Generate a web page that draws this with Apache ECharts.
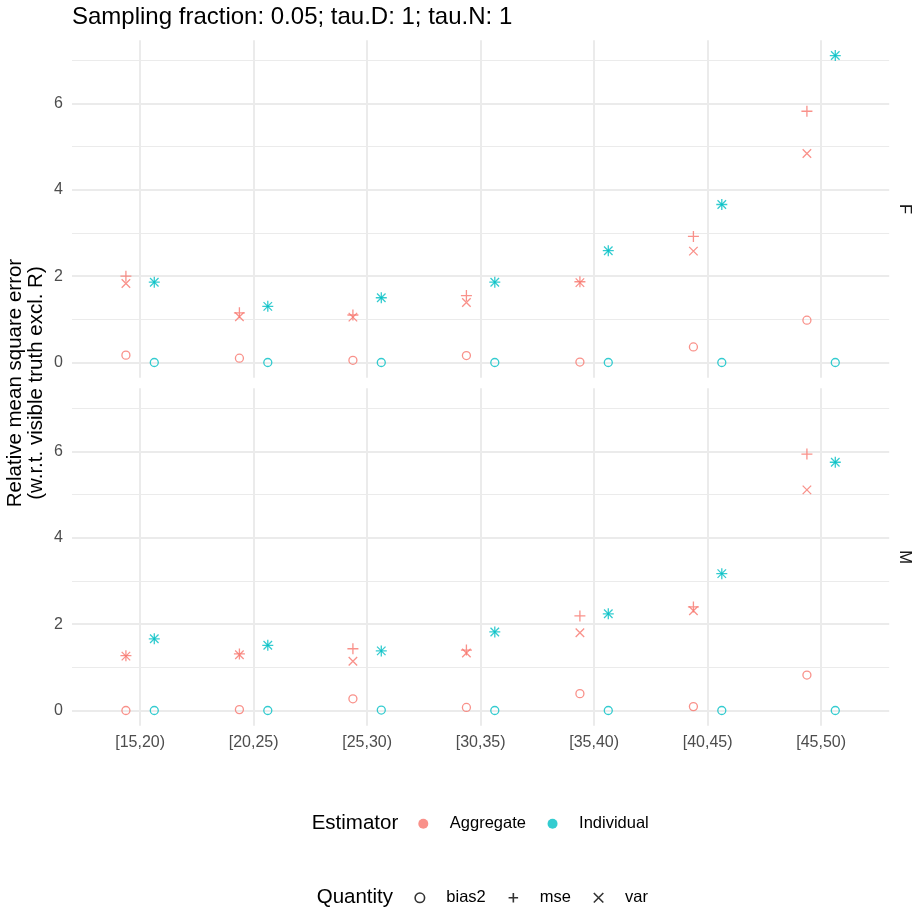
<!DOCTYPE html>
<html>
<head>
<meta charset="utf-8">
<title>Relative mean square error</title>
<script src="https://cdn.jsdelivr.net/npm/echarts@6.0.0/dist/echarts.min.js"></script>
<style>
html, body {margin:0; padding:0; background:#fff;}
#chart {width:919px; height:915px;}
</style>
</head>
<body>
<div id="chart"></div>
<script>
var ageGroups = ['[15,20)', '[20,25)', '[25,30)', '[30,35)', '[35,40)', '[40,45)', '[45,50)'];

// panel F
var fAggBias2 = [0.17, 0.10, 0.05, 0.16, 0.01, 0.36, 0.98];
var fAggMse   = [2.00, 1.15, 1.10, 1.55, 1.87, 2.92, 5.82];
var fAggVar   = [1.83, 1.06, 1.05, 1.39, 1.85, 2.58, 4.84];
var fIndBias2 = [0.00, 0.00, 0.00, 0.00, 0.00, 0.00, 0.00];
var fIndMse   = [1.86, 1.30, 1.50, 1.86, 2.59, 3.66, 7.11];
var fIndVar   = [1.86, 1.30, 1.50, 1.86, 2.59, 3.66, 7.11];

// panel M
var mAggBias2 = [0.00, 0.02, 0.27, 0.07, 0.39, 0.09, 0.82];
var mAggMse   = [1.27, 1.31, 1.43, 1.40, 2.19, 2.40, 5.94];
var mAggVar   = [1.26, 1.29, 1.14, 1.33, 1.80, 2.31, 5.11];
var mIndBias2 = [0.00, 0.00, 0.01, 0.00, 0.00, 0.00, 0.00];
var mIndMse   = [1.66, 1.51, 1.38, 1.82, 2.24, 3.17, 5.75];
var mIndVar   = [1.66, 1.51, 1.38, 1.82, 2.24, 3.17, 5.75];

var panelNames = ['F', 'M'];
var yTicks = ['0', '2', '4', '6'];

var myChart = echarts.init(document.getElementById('chart'));

var red = '#F8766D', teal = '#00BFC4';
var font = '"Liberation Sans", Arial, sans-serif';
var gridCol = '#EBEBEB';

// panel geometry
var yMin = -0.3555, yMax = 7.4655, yUnit = 43.17;
var xUnit = 113.5, firstX = 140.1, dodge = 0.125;
var panelTops = [40.2, 388.2];
var panelH = (yMax - yMin) * yUnit;

var symbols = {
    bias2: 'circle',
    mse: 'path://M0,5L10,5M5,0L5,10',
    var: 'path://M0,0L10,10M10,0L0,10'
};
var symbolSizes = {bias2: 8, mse: 11, var: 8.5};

function points(bias2, mse, vr, shift) {
    var d = [];
    for (var i = 0; i < ageGroups.length; i++) {
        d.push({value: [i + 1 + shift, bias2[i]], symbol: symbols.bias2, symbolSize: symbolSizes.bias2});
        d.push({value: [i + 1 + shift, mse[i]], symbol: symbols.mse, symbolSize: symbolSizes.mse});
        d.push({value: [i + 1 + shift, vr[i]], symbol: symbols.var, symbolSize: symbolSizes.var});
    }
    return d;
}

var grids = [], xAxes = [], yAxes = [], series = [];

panelNames.forEach(function (p, k) {
    var top = panelTops[k];
    var y0 = top + yMax * yUnit;
    // data grid, also carries the vertical grid lines
    grids.push({left: firstX, top: top, width: 6 * xUnit, height: panelH});
    // grid for the horizontal lines and y labels
    grids.push({left: firstX - 0.6 * xUnit, top: y0 - 8 * yUnit, width: 7.2 * xUnit, height: 8 * yUnit});

    xAxes.push({
        type: 'value', gridIndex: 2 * k, min: 1, max: 7, interval: 1,
        axisLine: {show: false}, axisTick: {show: false},
        axisLabel: {
            show: k === 1, margin: 9, color: '#4D4D4D', fontSize: 16, fontFamily: font,
            formatter: function (v) { return ageGroups[v - 1]; }
        },
        splitLine: {show: true, lineStyle: {color: gridCol, width: 2}}
    });
    yAxes.push({type: 'value', gridIndex: 2 * k, min: yMin, max: yMax, show: false});

    xAxes.push({type: 'value', gridIndex: 2 * k + 1, min: 0, max: 1, show: false});
    yAxes.push({
        type: 'value', gridIndex: 2 * k + 1, min: 0, max: 8, interval: 2,
        axisLine: {show: false}, axisTick: {show: false},
        axisLabel: {
            margin: 9, color: '#4D4D4D', fontSize: 16, fontFamily: font, showMaxLabel: false,
            formatter: function (v) { return yTicks[v / 2] || ''; }
        },
        splitLine: {show: true, showMaxLine: false, lineStyle: {color: gridCol, width: 2}},
        minorTick: {show: false, splitNumber: 2},
        minorSplitLine: {show: true, lineStyle: {color: gridCol, width: 1}}
    });
});

var panelData = [
    [[fAggBias2, fAggMse, fAggVar], [fIndBias2, fIndMse, fIndVar]],
    [[mAggBias2, mAggMse, mAggVar], [mIndBias2, mIndMse, mIndVar]]
];

panelData.forEach(function (pd, k) {
    [['Aggregate', red, -dodge], ['Individual', teal, dodge]].forEach(function (e, j) {
        series.push({
            name: e[0], type: 'scatter', xAxisIndex: 2 * k, yAxisIndex: 2 * k,
            clip: false, silent: true,
            itemStyle: {color: 'rgba(0,0,0,0)', borderColor: e[1], borderWidth: 1.3},
            data: points(pd[j][0], pd[j][1], pd[j][2], e[2])
        });
    });
});

// empty series so the shape legend has entries
['bias2', 'mse', 'var'].forEach(function (q) {
    series.push({name: q, type: 'scatter', xAxisIndex: 0, yAxisIndex: 0, data: []});
});

var legendText = {fontSize: 16.5, color: '#000', fontFamily: font};
var shapeStyle = {color: 'rgba(0,0,0,0)', borderColor: '#000', borderWidth: 1.6};

option = {
    animation: false,
    title: {
        text: 'Sampling fraction: 0.05; tau.D: 1; tau.N: 1',
        left: 72, top: 5, padding: 0,
        textStyle: {fontSize: 24, fontWeight: 'normal', color: '#000', fontFamily: font}
    },
    grid: grids,
    xAxis: xAxes,
    yAxis: yAxes,
    legend: [
        {
            left: 418.3, top: 815.3, padding: 0, itemGap: 21.6, itemWidth: 43, itemHeight: 10,
            selectedMode: false, textStyle: legendText,
            data: [
                {name: 'Aggregate', icon: 'circle', itemStyle: {color: red, borderWidth: 0}},
                {name: 'Individual', icon: 'circle', itemStyle: {color: teal, borderWidth: 0}}
            ]
        },
        {
            left: 414.3, top: 889.3, padding: 0, itemGap: 22, itemWidth: 43, itemHeight: 9.5,
            selectedMode: false, textStyle: legendText,
            data: [
                {name: 'bias2', icon: 'circle', itemStyle: shapeStyle},
                {name: 'mse', icon: symbols.mse, itemStyle: shapeStyle},
                {name: 'var', icon: symbols.var, itemStyle: shapeStyle}
            ]
        }
    ],
    graphic: [
        {
            type: 'text', x: 26, y: (panelTops[0] + panelTops[1] + panelH) / 2, rotation: Math.PI / 2,
            style: {
                text: 'Relative mean square error\n(w.r.t. visible truth excl. R)',
                fontSize: 20.5, fontFamily: font, fill: '#000', lineHeight: 21,
                textAlign: 'center', textVerticalAlign: 'middle', align: 'center', verticalAlign: 'middle'
            }
        },
        {
            type: 'text', x: 905, y: panelTops[0] + panelH / 2, rotation: -Math.PI / 2,
            style: {text: panelNames[0], fontSize: 16.5, fontFamily: font, fill: '#1A1A1A',
                textAlign: 'center', textVerticalAlign: 'middle', align: 'center', verticalAlign: 'middle'}
        },
        {
            type: 'text', x: 905, y: panelTops[1] + panelH / 2, rotation: -Math.PI / 2,
            style: {text: panelNames[1], fontSize: 16.5, fontFamily: font, fill: '#1A1A1A',
                textAlign: 'center', textVerticalAlign: 'middle', align: 'center', verticalAlign: 'middle'}
        },
        {
            type: 'text', x: 311.7, y: 823.3,
            style: {text: 'Estimator', fontSize: 20.5, fontFamily: font, fill: '#000',
                textAlign: 'left', textVerticalAlign: 'middle', align: 'left', verticalAlign: 'middle'}
        },
        {
            type: 'text', x: 316.7, y: 897.3,
            style: {text: 'Quantity', fontSize: 20.5, fontFamily: font, fill: '#000',
                textAlign: 'left', textVerticalAlign: 'middle', align: 'left', verticalAlign: 'middle'}
        }
    ],
    series: series
};

myChart.setOption(option);
</script>
</body>
</html>
